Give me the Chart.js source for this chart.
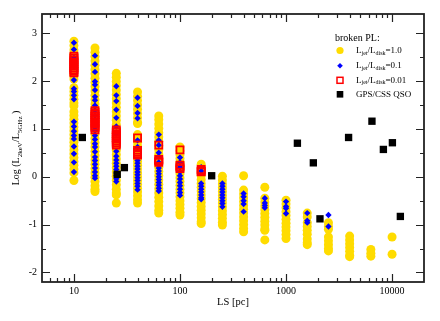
<!DOCTYPE html>
<html>
<head>
<meta charset="utf-8">
<script src="https://cdn.jsdelivr.net/npm/chart.js@4/dist/chart.umd.min.js"></script>
<style>
  html, body { margin: 0; padding: 0; background: #fff; }
  canvas { display: block; }
</style>
</head>
<body>
<canvas id="GraphLS" width="440" height="321"></canvas>
<script>
// LS grid of the broken power-law models (pc)
var lsGrid = [10, 15.8, 25.1, 39.8, 63.1, 100, 158.5, 251.2, 398.1, 631, 1000, 1585, 2512, 3981, 6310, 10000];

// Ljet/Ldisk = 1.0 (yellow circles), one list per LS column
var jet10 = [
  [2.83, 2.74, 2.65, 2.56, 2.47, 2.38, 2.29, 2.2, 2.11, 2.04, 1.86, 1.78, 1.7, 1.62, 1.54, 1.48, 1.36, 1.28, 1.2, 1.12, 1.04, 0.96, 0.88, 0.8, 0.72, 0.64, 0.56, 0.48, 0.4, 0.32, 0.24, 0.16, 0.08, -0.08],
  [2.69, 2.6, 2.51, 2.42, 2.33, 2.24, 2.15, 2.06, 1.97, 1.88, 1.79, 1.7, 1.61, 1.52, 1.43, 1.34, 1.25, 1.16, 1.07, 0.98, 0.89, 0.8, 0.71, 0.62, 0.53, 0.44, 0.35, 0.26, 0.17, 0.08, -0.01, -0.1, -0.19, -0.26, -0.31],
  [2.16, 2.08, 1.99, 1.9, 1.81, 1.72, 1.63, 1.54, 1.45, 1.36, 1.27, 1.18, 1.09, 1.0, 0.91, 0.82, 0.73, 0.64, 0.55, 0.46, 0.37, 0.28, 0.19, 0.1, 0.01, -0.08, -0.17, -0.26, -0.34, -0.38, -0.55],
  [1.77, 1.68, 1.59, 1.5, 1.41, 1.32, 1.23, 1.14, 1.11, 0.88, 0.8, 0.72, 0.64, 0.56, 0.48, 0.4, 0.32, 0.24, 0.16, 0.08, 0.0, -0.08, -0.16, -0.24, -0.32, -0.4, -0.48, -0.55],
  [1.27, 1.19, 1.1, 1.01, 0.92, 0.83, 0.74, 0.65, 0.56, 0.47, 0.38, 0.29, 0.2, 0.11, 0.02, -0.07, -0.16, -0.25, -0.34, -0.43, -0.52, -0.61, -0.7, -0.76],
  [0.62, 0.54, 0.46, 0.38, 0.3, 0.22, 0.14, 0.06, -0.02, -0.1, -0.18, -0.26, -0.34, -0.42, -0.5, -0.58, -0.66, -0.74, -0.8],
  [0.26, 0.18, 0.1, 0.02, -0.06, -0.14, -0.22, -0.3, -0.38, -0.46, -0.54, -0.62, -0.7, -0.78, -0.86, -0.94, -0.98],
  [0.01, -0.07, -0.15, -0.23, -0.31, -0.39, -0.47, -0.55, -0.63, -0.71, -0.79, -0.87, -0.95, -1.01],
  [0.02, -0.28, -0.36, -0.44, -0.52, -0.6, -0.68, -0.76, -0.84, -0.92, -1.0, -1.08, -1.15],
  [-0.22, -0.45, -0.53, -0.61, -0.69, -0.77, -0.85, -0.93, -1.01, -1.09, -1.12, -1.32],
  [-0.49, -0.57, -0.65, -0.73, -0.81, -0.89, -0.97, -1.05, -1.13, -1.21, -1.29],
  [-0.76, -0.84, -0.96, -1.04, -1.12, -1.2, -1.3, -1.38, -1.42],
  [-0.96, -1.04, -1.1, -1.26, -1.34, -1.42, -1.5, -1.55],
  [-1.24, -1.32, -1.4, -1.48, -1.56, -1.64, -1.67],
  [-1.52, -1.6, -1.66],
  [-1.26, -1.62]
];

// Ljet/Ldisk = 0.1 (blue diamonds)
var jet01 = [
  [2.8, 2.66, 2.48, 2.3, 2.02, 1.84, 1.78, 1.7, 1.62, 1.15, 1.05, 0.95, 0.86, 0.79, 0.63, 0.48, 0.3, 0.1],
  [2.53, 2.35, 2.19, 1.99, 1.92, 1.81, 1.67, 1.6, 1.49, 1.39, 1.28, 1.18, 1.1, 1.03, 0.96, 0.86, 0.78, 0.69, 0.62, 0.52, 0.41, 0.34, 0.26, 0.18, 0.1, 0.02, -0.03],
  [1.89, 1.7, 1.58, 1.4, 1.23, 1.05, 0.9, 0.53, 0.43, 0.35, 0.28, 0.22, 0.15, 0.08, 0.02, -0.04, -0.1],
  [1.65, 1.48, 1.33, 1.22, 0.76, 0.62, 0.34, 0.28, 0.22, 0.16, 0.1, 0.04, -0.02, -0.08, -0.14, -0.2, -0.27],
  [0.88, 0.76, 0.66, 0.5, 0.42, 0.3, 0.24, 0.18, 0.12, 0.06, 0.0, -0.06, -0.12, -0.18, -0.24, -0.3],
  [0.4, 0.3, 0.2, 0.1, 0.02, -0.05, -0.12, -0.19, -0.26, -0.33, -0.39],
  [0.2, 0.12, -0.14, -0.2, -0.26, -0.32, -0.38, -0.44, -0.47],
  [-0.14, -0.2, -0.26, -0.32, -0.38, -0.44, -0.5, -0.56, -0.63],
  [-0.35, -0.42, -0.5, -0.57, -0.73],
  [-0.45, -0.55, -0.6, -0.65],
  [-0.52, -0.62, -0.66, -0.77],
  [-0.76, -0.92, -0.96],
  [-0.8, -1.04],
  [], [], []
];

// Ljet/Ldisk = 0.01 (red open squares)
var jet001 = [
  [2.52, 2.48, 2.44, 2.4, 2.36, 2.32, 2.28, 2.24, 2.2, 2.17],
  [1.38, 1.34, 1.3, 1.26, 1.22, 1.18, 1.14, 1.1, 1.06, 1.02, 0.98],
  [0.98, 0.94, 0.9, 0.86, 0.82, 0.78, 0.74, 0.7, 0.66],
  [0.81, 0.55, 0.51, 0.48, 0.45],
  [0.66, 0.36, 0.33, 0.3],
  [0.56, 0.24, 0.2, 0.17],
  [0.15, 0.12, 0.1],
  [], [], [], [], [], [], [], [], []
];

// GPS/CSS QSO
var qsoLS = [12, 25.6, 29.9, 199, 1280, 1810, 2090, 3890, 6460, 8280, 10070, 11970];
var qsoLog = [0.82, 0.05, 0.19, 0.02, 0.7, 0.29, -0.88, 0.82, 1.16, 0.57, 0.71, -0.83];

var xTicks = [10, 100, 1000, 10000];
var yTicks = [-2, -1, 0, 1, 2, 3];
var yMinor = [-1.5, -0.5, 0.5, 1.5, 2.5];

var yellow = '#ffdc00';
var blue = '#0000ff';
var red = '#ff0000';

function toPoints(cols){
    var pts = [];
    cols.forEach(function(vals, i){
        vals.forEach(function(v){
            pts.push({x: lsGrid[i], y: v});
        });
    });
    return pts;
}

var qsoPoints = qsoLS.map(function(ls, i){ return {x: ls, y: qsoLog[i]}; });

var serif = '"Liberation Serif", "DejaVu Serif", serif';

// draws a run of text pieces, some of them as subscripts
function drawRich(ctx, parts, x, y, size, subSize, subDrop){
    var total = 0;
    parts.forEach(function(p){
        ctx.font = (p.sub ? subSize : size) + 'px ' + serif;
        p.w = ctx.measureText(p.t).width;
        total += p.w;
    });
    var cx = x;
    parts.forEach(function(p){
        ctx.font = (p.sub ? subSize : size) + 'px ' + serif;
        ctx.fillText(p.t, cx, p.sub ? y + subDrop : y);
        cx += p.w;
    });
    return total;
}

var decor = {
    id: 'decor',
    afterDraw: function(chart){
        var ctx = chart.ctx;
        var a = chart.chartArea;
        var xs = chart.scales.x, ys = chart.scales.y;
        ctx.save();
        ctx.strokeStyle = '#222';
        ctx.lineWidth = 1.2;
        ctx.beginPath();
        // x ticks, bottom and top, pointing inward
        for(var d = 1; d <= 10000; d *= 10){
            for(var m = 1; m < 10; m++){
                var v = d * m;
                if(v <= xs.min || v >= xs.max) continue;
                var px = Math.round(xs.getPixelForValue(v)) + 0.5;
                var len = (m == 1) ? 8 : 4;
                ctx.moveTo(px, a.bottom); ctx.lineTo(px, a.bottom - len);
                ctx.moveTo(px, a.top); ctx.lineTo(px, a.top + len);
            }
        }
        yTicks.concat(yMinor).forEach(function(v){
            var py = Math.round(ys.getPixelForValue(v)) + 0.5;
            var len = (yTicks.indexOf(v) >= 0) ? 8 : 4;
            ctx.moveTo(a.left, py); ctx.lineTo(a.left + len, py);
            ctx.moveTo(a.right, py); ctx.lineTo(a.right - len, py);
        });
        ctx.stroke();

        // frame
        ctx.lineWidth = 1.8;
        ctx.strokeRect(a.left, a.top, a.right - a.left, a.bottom - a.top);

        // axis titles
        ctx.fillStyle = '#000';
        ctx.textBaseline = 'alphabetic';
        ctx.font = '10.5px ' + serif;
        ctx.textAlign = 'center';
        ctx.fillText('LS [pc]', (a.left + a.right) / 2, 305);

        ctx.textAlign = 'left';
        var yParts = [{t: 'Log (L'}, {t: '2keV', sub: true}, {t: '/L'}, {t: '5GHz', sub: true}, {t: ' )'}];
        ctx.save();
        ctx.translate(19, (a.top + a.bottom) / 2);
        ctx.rotate(-Math.PI / 2);
        ctx.globalAlpha = 0;
        var w = drawRich(ctx, yParts, 0, 0, 10, 7, 3);
        ctx.globalAlpha = 1;
        drawRich(ctx, yParts, -w / 2, 0, 10, 7, 3);
        ctx.restore();

        // legend
        ctx.font = '10px ' + serif;
        ctx.fillText('broken PL:', 335, 41);
        var mx = 340, tx = 356;
        var rows = [50.5, 65.7, 80.3, 94.3];
        ctx.fillStyle = yellow;
        ctx.beginPath(); ctx.arc(mx, rows[0], 3.6, 0, Math.PI * 2); ctx.fill();
        ctx.fillStyle = blue;
        ctx.beginPath();
        ctx.moveTo(mx, rows[1] - 2.8); ctx.lineTo(mx + 2.8, rows[1]);
        ctx.lineTo(mx, rows[1] + 2.8); ctx.lineTo(mx - 2.8, rows[1]);
        ctx.closePath(); ctx.fill();
        ctx.strokeStyle = red; ctx.lineWidth = 1.5;
        ctx.strokeRect(mx - 3, rows[2] - 3, 6, 6);
        ctx.fillStyle = '#000';
        ctx.fillRect(mx - 3.3, rows[3] - 3.3, 6.6, 6.6);

        ctx.fillStyle = '#000';
        ctx.textBaseline = 'middle';
        var ratios = ['=1.0', '=0.1', '=0.01'];
        ratios.forEach(function(r, i){
            drawRich(ctx, [{t: 'L'}, {t: 'jet', sub: true}, {t: '/L'}, {t: 'disk', sub: true}, {t: r}], tx, rows[i], 9, 6, 2.5);
        });
        ctx.font = '9px ' + serif;
        ctx.fillText('GPS/CSS QSO', tx, rows[3]);
        ctx.restore();
    }
};

var ctxLS = document.getElementById('GraphLS');
var LSChart = new Chart(ctxLS, {
    type: 'scatter',
    data: {
        datasets: [
            {
                label: 'Ljet/Ldisk=1.0',
                data: toPoints(jet10),
                pointStyle: 'circle',
                pointRadius: 4.5,
                backgroundColor: yellow,
                borderWidth: 0,
                order: 4
            },
            {
                label: 'Ljet/Ldisk=0.1',
                data: toPoints(jet01),
                pointStyle: 'rectRot',
                pointRadius: 3.2,
                backgroundColor: blue,
                borderWidth: 0,
                order: 3
            },
            {
                label: 'Ljet/Ldisk=0.01',
                data: toPoints(jet001),
                pointStyle: 'rect',
                pointRadius: 5,
                backgroundColor: 'rgba(0,0,0,0)',
                borderColor: red,
                borderWidth: 1.8,
                order: 2
            },
            {
                label: 'GPS/CSS QSO',
                data: qsoPoints,
                pointStyle: 'rect',
                pointRadius: 5.2,
                backgroundColor: '#000',
                borderWidth: 0,
                order: 1
            }
        ]
    },
    options: {
        responsive: false,
        animation: false,
        devicePixelRatio: 1,
        events: [],
        layout: { padding: { top: 14, right: 16, left: 0, bottom: 0 } },
        plugins: {
            legend: { display: false },
            tooltip: { enabled: false }
        },
        scales: {
            x: {
                type: 'logarithmic',
                min: 5,
                max: 20000,
                grid: { display: false, drawTicks: false },
                border: { display: false },
                afterBuildTicks: function(scale){
                    scale.ticks = xTicks.map(function(v){ return {value: v}; });
                },
                afterFit: function(scale){ scale.height = 39; },
                ticks: {
                    padding: 3,
                    color: '#000',
                    font: { family: serif, size: 10 },
                    callback: function(v){ return String(v); }
                }
            },
            y: {
                min: -2.2,
                max: 3.4,
                grid: { display: false, drawTicks: false },
                border: { display: false },
                afterBuildTicks: function(scale){
                    scale.ticks = yTicks.map(function(v){ return {value: v}; });
                },
                afterFit: function(scale){ scale.width = 42; },
                ticks: {
                    padding: 5,
                    color: '#000',
                    font: { family: serif, size: 10 },
                    callback: function(v){ return String(v); }
                }
            }
        }
    },
    plugins: [decor]
});
</script>
</body>
</html>
